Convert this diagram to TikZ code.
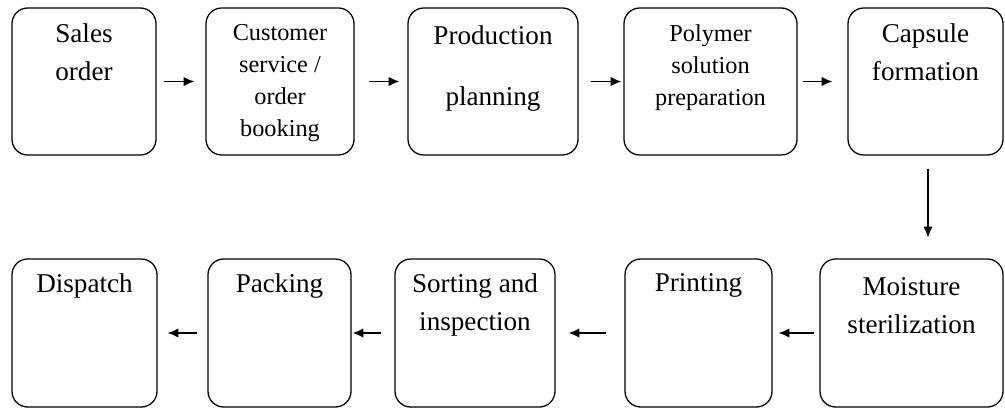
\documentclass[tikz,border=0pt]{standalone}
\usepackage{fontspec}
\setmainfont{Liberation Serif}
\newfontfamily\boxfont{Liberation Serif}
\usetikzlibrary{positioning,arrows.meta}

\tikzset{
  box/.style={draw, line width=0.9pt, rounded corners=11pt, inner sep=0pt},
  big/.style={align=center, inner sep=0pt, font=\boxfont\fontsize{19}{26.6}\selectfont},
  small/.style={align=center, inner sep=0pt, font=\boxfont\fontsize{17}{22.4}\selectfont},
  flow/.style={-{Latex[length=7.5pt,width=6.5pt]}, line width=0.9pt},
}

\begin{document}
\begin{tikzpicture}[x=0.7pt,y=-0.7pt]
        \useasboundingbox (0,0) rectangle (1005,412);
        % top row
        \node[box, minimum width=100.8pt, minimum height=102.9pt] (sales) at (84,81.5) {};
        \node[box, minimum width=103.6pt, minimum height=102.9pt] (booking) at (280,81.5) {};
        \node[box, minimum width=119pt, minimum height=102.9pt] (planning) at (493,81.5) {};
        \node[box, minimum width=121.1pt, minimum height=102.9pt] (polymer) at (710.5,81.5) {};
        \node[box, minimum width=108.5pt, minimum height=102.9pt] (capsule) at (925.5,81.5) {};
        % bottom row
        \node[box, minimum width=101.5pt, minimum height=103.6pt] (dispatch) at (84.5,333) {};
        \node[box, minimum width=100.1pt, minimum height=103.6pt] (packing) at (279.5,333) {};
        \node[box, minimum width=112pt, minimum height=103.6pt] (sorting) at (475,333) {};
        \node[box, minimum width=102.9pt, minimum height=103.6pt] (printing) at (698.5,333) {};
        \node[box, minimum width=128.1pt, minimum height=103.6pt] (sterile) at (911.5,333) {};
        % texts
        \node[big, below=11pt of sales.north] (sales-t) {Sales\\order};
        \node[small, below=12pt of booking.north] (booking-t) {Customer\\service /\\order\\booking};
        \node[big, below=12.5pt of planning.north] (planning-t) {Production\\[16pt]planning};
        \node[small, below=12pt of polymer.north] (polymer-t) {Polymer\\solution\\preparation};
        \node[big, below=11pt of capsule.north] (capsule-t) {Capsule\\formation};
        \node[big, below=10.5pt of dispatch.north] (dispatch-t) {Dispatch};
        \node[big, below=10.5pt of packing.north] (packing-t) {Packing};
        \node[big, below=10.5pt of sorting.north] (sorting-t) {Sorting and\\inspection};
        \node[big, below=10.5pt of printing.north] (printing-t) {Printing};
        \node[big, below=13.5pt of sterile.north] (sterile-t) {Moisture\\sterilization};
        % arrows
        \draw[flow, shorten <=4.9pt, shorten >=7.7pt] (sales) -- (booking);
        \draw[flow, shorten <=9.8pt, shorten >=5.6pt] (booking) -- (planning);
        \draw[flow, shorten <=8.4pt, shorten >=1.4pt] (planning) -- (polymer);
        \draw[flow, shorten <=3.5pt, shorten >=10.5pt] (polymer) -- (capsule);
        \draw[flow, shorten <=9.1pt, shorten >=14.7pt] ([xshift=1.75pt]capsule.south) -- ([xshift=1.75pt]capsule.south |- sterile.north);
        \draw[flow, shorten <=3.5pt, shorten >=4.2pt] (sterile) -- (printing);
        \draw[flow, shorten <=12.6pt, shorten >=9.1pt] (printing) -- (sorting);
        \draw[flow, shorten <=9.1pt, shorten >=0.7pt] (sorting) -- (packing);
        \draw[flow, shorten <=7pt, shorten >=7pt] (packing) -- (dispatch);
      \end{tikzpicture}
\end{document}
